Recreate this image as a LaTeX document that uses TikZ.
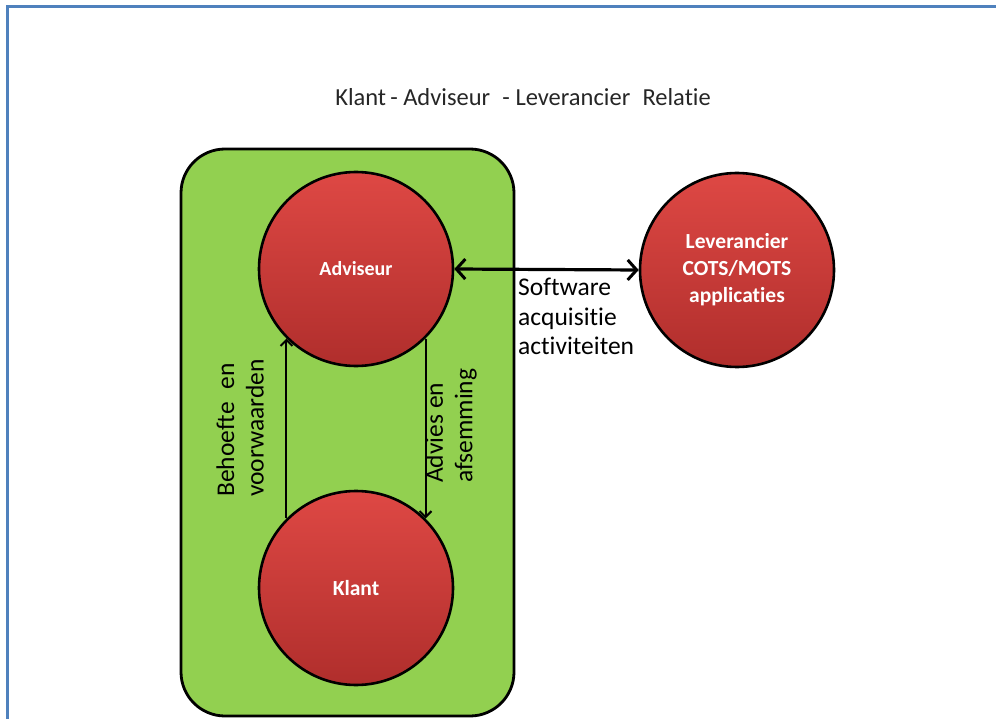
\documentclass[tikz,border=0pt]{standalone}
\usepackage{fontspec}
\setmainfont{Carlito}[Ligatures=NoCommon]
\usetikzlibrary{arrows.meta}
\definecolor{framblue}{RGB}{79,129,189}
\definecolor{boxgreen}{RGB}{146,208,80}
\definecolor{redtop}{RGB}{222,72,68}
\definecolor{redbot}{RGB}{176,46,44}
\tikzset{
  actor/.style={circle, draw=black, line width=2.6pt, minimum size=194pt,
    inner sep=0pt, top color=redtop, bottom color=redbot,
    text=white, font=\bfseries\fontsize{21.5}{27}\selectfont, align=center},
  flow/.style={draw=black, line width=2pt, -{Straight Barb[length=6pt,width=12pt,line width=2pt]}},
  bothflow/.style={draw=black, line width=3.2pt,
    {Straight Barb[length=9pt,width=20pt,line width=3pt]}-{Straight Barb[length=9pt,width=20pt,line width=3pt]}},
  lbl/.style={font=\fontsize{25.5}{29.5}\selectfont, align=left, inner sep=0pt}
}
\begin{document}
\begin{tikzpicture}[x=1pt, y=-1pt]
  \useasboundingbox (0,0) rectangle (996,719);
  % page frame (top and left edges)
  \draw[framblue, line width=3pt] (7,722) -- (7,7) -- (999,7);
  % title
  \node[font=\fontsize{24.5}{28}\selectfont, text=black!85] (title) at (523,97)
    {Klant\,- Adviseur\enspace- Leverancier\enspace Relatie};
  % green container
  \draw[fill=boxgreen, draw=black, line width=2.8pt, rounded corners=44pt]
    (181,149) rectangle (514,716);
  % actors
  \node[actor] (adv) at (356,269) {\fontsize{20}{24}\selectfont Adviseur};
  \node[actor] (kl)  at (356,588) {Klant};
  \node[actor] (lev) at (737,270) {Leverancier\\COTS/MOTS\\applicaties};
  % connectors
  \draw[bothflow] (adv.east) -- (lev.west);
  \draw[flow] (kl.135) -- (adv.225);
  \draw[flow] (adv.315) -- (kl.45);
  % labels
  \node[lbl, anchor=north west] (soft) at (518,278)
    {Software\\acquisitie\\activiteiten};
  \node[lbl, rotate=90, anchor=west] (beh) at (240,497)
    {Behoefte\enspace en\\voorwaarden};
  \node[lbl, rotate=90, anchor=west] (adv2) at (451,483)
    {Advies en\\afsemming};
\end{tikzpicture}
\end{document}
